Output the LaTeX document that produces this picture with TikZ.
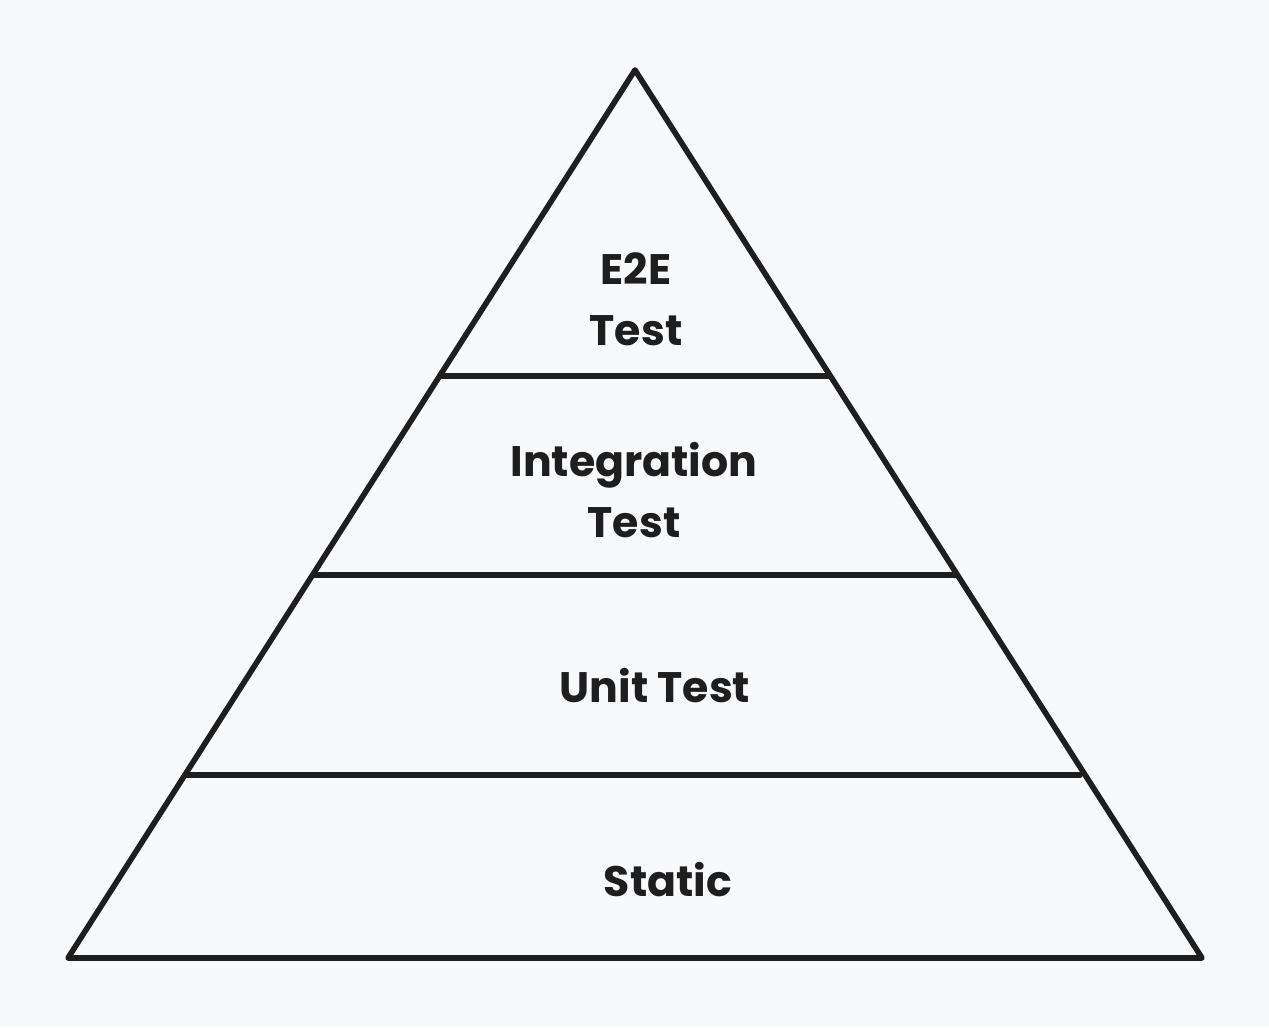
\documentclass[tikz,border=0pt]{standalone}
\usepackage{fontspec}
\setmainfont{Poppins}
\definecolor{bg}{HTML}{F8F9FB}
\definecolor{ink}{HTML}{1E1E1E}
\begin{document}
\begin{tikzpicture}[x=0.75pt,y=-0.75pt,
  edge/.style={draw=ink,line width=4.2pt,line cap=round,line join=round},
  lbl/.style={text=ink,font=\fontsize{32}{46}\selectfont\bfseries,align=center}]
\fill[bg] (0,0) rectangle (1269,1027);
\useasboundingbox (0,0) rectangle (1269,1027);
\coordinate (apex) at (635,70);
\coordinate (bl) at (68,958);
\coordinate (br) at (1202,958);
\draw[edge] (apex) -- (br) -- (bl) -- cycle;
\coordinate (a1) at (440,376); \coordinate (b1) at (830,376);
\coordinate (a2) at (314,575); \coordinate (b2) at (955,575);
\coordinate (a3) at (186,775); \coordinate (b3) at (1080,775);
\draw[edge] (a1) -- (b1);
\draw[edge] (a2) -- (b2);
\draw[edge] (a3) -- (b3);
\node[lbl] (e2e) at (636,299) {E2E\\Test};
\node[lbl] (int) at (634,490) {Integration\\Test};
\node[lbl] (unit) at (655,686) {Unit Test};
\node[lbl] (static) at (668,880) {Static};
\end{tikzpicture}
\end{document}
